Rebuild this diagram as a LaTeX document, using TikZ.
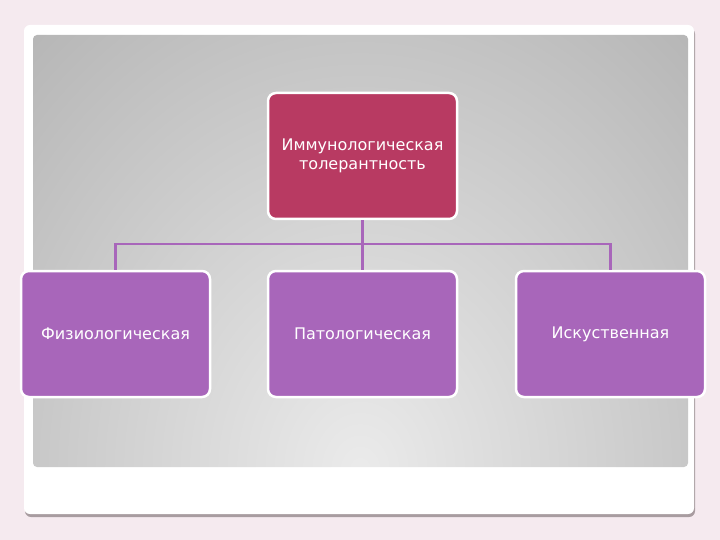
\documentclass[tikz,border=0pt]{standalone}
\usepackage{fontspec}
\setmainfont{DejaVu Sans}
\usepackage{tikz}
\usetikzlibrary{positioning,shadings}

\definecolor{pagebg}{HTML}{F5EAEF}
\definecolor{crimson}{HTML}{B83A62}
\definecolor{lilac}{HTML}{A866BA}
\definecolor{rim}{HTML}{A89CA0}

\begin{document}
\begin{tikzpicture}
  [x=1pt,y=-1pt,
   box/.style={rectangle,rounded corners=8pt,draw=white,line width=2.5pt,
     minimum width=189pt,minimum height=126pt,text=white,align=center,
     font=\fontsize{16}{19}\selectfont},
   top/.style={box,fill=crimson},
   kind/.style={box,fill=lilac},
   link/.style={draw=lilac,line width=2.5pt}]
  % page and slide
  \fill[pagebg] (0,0) rectangle (720,540);
  \fill[rim,rounded corners=6pt] (25,28) rectangle (695,517);
  \fill[white,rounded corners=6pt] (24,25) rectangle (694,514);
  \begin{scope}
    \clip[rounded corners=4pt] (33,35) rectangle (688,467);
    \shade[inner color=white!92!black,outer color=white!62!black]
      (360,470) ellipse [x radius=720,y radius=860];
  \end{scope}
  \useasboundingbox (0,0) rectangle (720,540);

  \node[top] (imm) at (362.5,156) {Иммунологическая\\толерантность};
  \node[kind] (phys) at (115.5,334) {Физиологическая};
  \node[kind] (path) at (362.5,334) {Патологическая};
  \node[kind] (art) at (610.5,334) {Искуственная};

  \coordinate (bus) at (362.5,244);
  \draw[link] (imm.south) -- (bus);
  \draw[link] (phys.north) |- (bus) -| (art.north);
  \draw[link] (bus) -- (path.north);
\end{tikzpicture}
\end{document}
